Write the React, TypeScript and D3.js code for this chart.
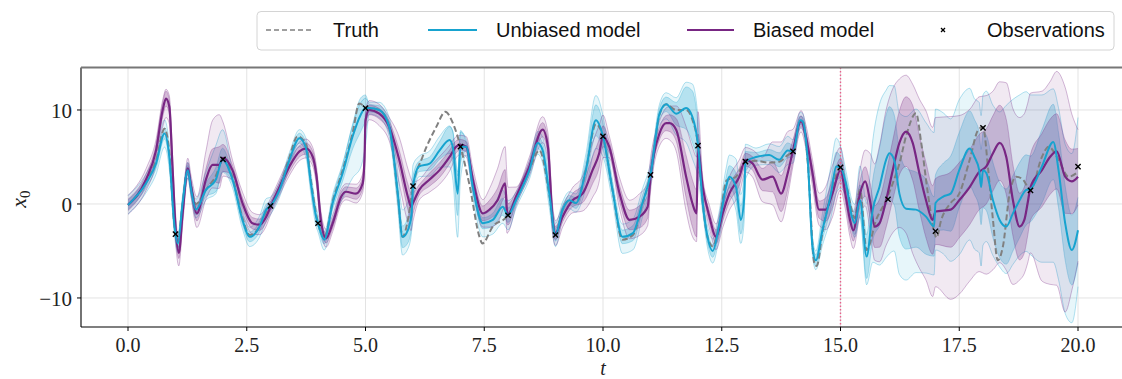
import React from 'react';
import * as d3 from 'd3';

const W = 1122;
const H = 379;

// Observations (t = 1..20)
const obsT = [1, 2, 3, 4, 5, 6, 7, 8, 9, 10, 11, 12, 13, 14, 15, 16, 17, 18, 19, 20];
const obsV = [-3.2, 4.75, -0.2, -2.05, 10.2, 1.9, 6.1, -1.2, -3.3, 7.2, 3.1, 6.2, 4.5, 5.6, 3.9, 0.5, -2.9, 8.1, 1.45, 3.97];

// Truth
const truthT = [0, 0.38, 0.59, 0.77, 0.87, 0.98, 1.05, 1.15, 1.26, 1.33, 1.43, 1.64, 1.85, 2.0, 2.2, 2.41, 2.56, 2.77, 2.91, 3.0, 3.19, 3.4, 3.57, 3.75, 3.85, 4.0, 4.13, 4.31, 4.52, 4.73, 4.87, 5.0, 5.29, 5.5, 5.68, 5.78, 5.9, 6.0, 6.2, 6.49, 6.68, 6.84, 7.0, 7.19, 7.4, 7.46, 7.68, 8.0, 8.17, 8.45, 8.66, 8.87, 9.0, 9.15, 9.29, 9.43, 9.64, 9.85, 10.0, 10.2, 10.41, 10.63, 10.83, 11.0, 11.19, 11.33, 11.54, 11.75, 11.88, 12.0, 12.1, 12.2, 12.31, 12.44, 12.6, 12.8, 13.0, 13.22, 13.5, 13.71, 13.89, 14.0, 14.15, 14.2, 14.31, 14.45, 14.5, 14.62, 14.8, 15.0, 15.13, 15.3, 15.41, 15.55, 15.75, 15.96, 16.1, 16.24, 16.38, 16.59, 16.7, 16.84, 16.98, 17.02, 17.12, 17.32, 17.5, 17.72, 17.9, 18.0, 18.11, 18.21, 18.31, 18.42, 18.56, 18.7, 18.84, 19.0, 19.24, 19.38, 19.59, 19.8, 20.0];
const truthV = [-0.1, 2.3, 4.6, 8.0, 5.5, -2.5, -4.0, 0.1, 3.6, 1.8, 0.0, 1.5, 3.0, 4.8, 2.8, -1.5, -3.3, -2.4, -0.8, -0.2, 1.7, 5.0, 7.2, 6.3, 2.5, -2.0, -3.6, 0.3, 3.6, 7.6, 10.7, 10.3, 10.0, 8.2, 1.0, -3.5, -1.5, 1.9, 5.0, 8.2, 9.8, 8.6, 6.1, 2.0, -3.5, -4.2, -2.4, -1.2, 0.5, 3.6, 5.7, 1.0, -3.3, -0.6, 0.4, 0.1, 3.6, 8.5, 7.2, 1.5, -3.8, -3.3, 0.0, 3.1, 9.5, 10.6, 10.0, 10.0, 9.0, 6.2, 0.2, -3.5, -4.5, -2.4, 2.5, 2.9, 4.5, 4.6, 4.4, 4.5, 5.2, 5.6, 8.8, 8.9, 4.5, -6.3, -6.6, -3.0, 1.0, 3.9, 1.8, -1.5, 1.5, -4.9, -1.7, 0.4, 2.2, 4.3, 7.2, 9.65, 6.5, 1.1, -3.1, -3.6, -1.7, 0.1, 1.1, 4.7, 7.9, 8.2, 3.6, -1.7, -6.0, -4.5, 1.1, 2.9, 2.6, 1.5, 5.0, 6.1, 4.7, 2.9, 3.4];

// Unbiased model ensemble mean
const unbT = [0, 0.38, 0.59, 0.77, 0.87, 0.98, 1.05, 1.15, 1.26, 1.33, 1.43, 1.64, 1.85, 1.99, 2.2, 2.41, 2.56, 2.77, 2.91, 3.0, 3.19, 3.4, 3.61, 3.75, 3.85, 3.96, 4.0, 4.13, 4.31, 4.52, 4.73, 4.9, 5.0, 5.08, 5.29, 5.5, 5.68, 5.78, 5.89, 5.97, 6.0, 6.13, 6.35, 6.56, 6.77, 6.84, 6.94, 7.0, 7.12, 7.26, 7.47, 7.68, 7.89, 8.0, 8.17, 8.45, 8.63, 8.73, 8.87, 9.0, 9.15, 9.29, 9.43, 9.64, 9.85, 10.0, 10.2, 10.41, 10.63, 10.83, 11.0, 11.19, 11.33, 11.54, 11.75, 11.88, 12.0, 12.1, 12.2, 12.31, 12.44, 12.59, 12.66, 12.8, 12.9, 12.97, 13.0, 13.22, 13.5, 13.71, 13.89, 14.0, 14.15, 14.2, 14.31, 14.41, 14.48, 14.62, 14.8, 14.91, 15.0, 15.13, 15.24, 15.3, 15.41, 15.55, 15.68, 15.82, 15.96, 16.03, 16.13, 16.24, 16.38, 16.59, 16.8, 16.97, 17.0, 17.17, 17.32, 17.5, 17.72, 17.82, 17.92, 17.96, 18.0, 18.07, 18.21, 18.35, 18.49, 18.63, 18.77, 18.91, 19.0, 19.24, 19.48, 19.59, 19.73, 19.87, 20.0];
const unbV = [-0.1, 2.2, 4.3, 7.5, 5.0, -2.4, -4.2, 0.1, 3.6, 1.5, -0.6, 1.5, 2.6, 4.7, 2.6, -1.7, -3.5, -2.4, -0.6, -0.2, 1.5, 4.7, 7.0, 5.9, 2.2, -1.35, -2.05, -3.8, 0.1, 3.3, 7.2, 9.5, 10.2, 10.2, 10.0, 8.2, 1.1, -3.5, -2.8, -1.0, 1.9, 4.0, 4.3, 5.7, 6.8, 6.0, 1.1, 6.1, 6.1, 1.8, -2.05, -1.7, -0.3, -1.2, 0.4, 3.6, 6.5, 5.7, 1.1, -3.3, -0.6, 0.4, 0.1, 3.6, 8.9, 7.2, 1.5, -3.5, -3.1, 0.1, 3.1, 9.6, 10.6, 9.6, 10.2, 9.3, 6.3, 0.1, -3.5, -5.0, -2.4, 1.8, 2.9, 1.8, -1.7, 0.5, 4.5, 5.0, 5.2, 4.7, 5.7, 5.6, 8.9, 8.8, 4.7, -4.5, -6.0, -2.8, 1.1, 4.0, 3.9, 1.8, -1.35, -2.05, 0.4, -5.6, -0.6, 1.8, 4.7, 5.4, 4.7, 1.1, -0.5, -0.6, -1.35, -2.4, 0.1, 0.8, 1.1, 3.6, 5.9, 5.0, 3.6, 1.8, 3.6, 3.3, 0.4, -1.7, -2.4, -1.0, 0.4, 1.5, 1.6, 4.0, 6.6, 3.6, -2.05, -4.9, -2.8];

// Biased model ensemble mean
const biaT = [0, 0.38, 0.59, 0.73, 0.8, 0.87, 0.94, 1.0, 1.07, 1.15, 1.26, 1.33, 1.45, 1.64, 1.78, 1.92, 2.0, 2.2, 2.41, 2.62, 2.77, 2.91, 3.0, 3.19, 3.4, 3.61, 3.75, 3.89, 3.97, 4.06, 4.17, 4.31, 4.49, 4.59, 4.8, 4.94, 4.98, 5.0, 5.08, 5.29, 5.5, 5.71, 5.89, 5.96, 6.0, 6.13, 6.35, 6.56, 6.77, 6.91, 7.0, 7.12, 7.26, 7.47, 7.61, 7.78, 7.94, 7.98, 8.0, 8.17, 8.45, 8.73, 8.84, 8.94, 9.0, 9.15, 9.36, 9.57, 9.78, 9.92, 10.0, 10.13, 10.35, 10.56, 10.77, 10.94, 11.0, 11.19, 11.33, 11.4, 11.54, 11.75, 11.88, 11.97, 12.0, 12.1, 12.24, 12.38, 12.52, 12.66, 12.87, 13.0, 13.15, 13.36, 13.57, 13.75, 13.89, 14.0, 14.17, 14.27, 14.41, 14.55, 14.69, 14.83, 15.0, 15.1, 15.2, 15.27, 15.41, 15.52, 15.62, 15.72, 15.82, 15.96, 16.1, 16.24, 16.38, 16.52, 16.66, 16.8, 16.94, 17.0, 17.32, 17.5, 17.72, 17.92, 18.07, 18.21, 18.35, 18.49, 18.63, 18.77, 18.87, 18.94, 19.0, 19.24, 19.41, 19.55, 19.73, 19.87, 20.0];
const biaV = [-0.1, 2.6, 5.7, 10.0, 11.2, 10.35, 3.6, -2.4, -5.2, -1.0, 3.8, 1.8, -1.0, 2.6, 4.15, 4.15, 4.9, 3.6, 0.1, -2.05, -2.2, -1.35, -0.3, 1.8, 4.0, 5.6, 5.9, 5.0, 2.9, -1.7, -3.65, -2.05, 0.8, 1.3, 1.1, 2.2, 5.0, 8.9, 10.0, 9.6, 8.2, 4.7, 0.8, -0.3, 0.1, 1.5, 2.6, 3.6, 5.0, 6.1, 6.3, 6.1, 2.6, -1.0, -0.6, 0.4, 2.2, -0.8, -1.1, 0.8, 4.0, 7.9, 6.1, -1.7, -3.1, -1.35, 0.4, 1.1, 3.6, 5.4, 7.2, 6.1, 1.1, -1.7, -1.35, -0.3, 2.9, 7.5, 8.6, 8.6, 7.9, 2.9, 0.1, -1.0, 5.7, 1.8, -1.35, -3.5, -1.0, 1.1, 2.9, 4.7, 4.3, 2.6, 2.9, 1.1, 3.3, 5.7, 8.8, 7.2, 3.3, -0.6, -0.6, 1.1, 3.6, 1.1, -1.7, -2.8, 1.1, 2.4, 0.4, -2.4, -2.05, 0.4, 3.6, 6.5, 7.7, 6.5, 3.3, 0.4, -1.7, -0.8, -0.6, 0.4, 1.8, 3.4, 4.0, 5.4, 6.5, 5.0, 0.4, -2.4, -1.7, 0.1, 1.8, 3.6, 5.0, 5.6, 2.9, 2.4, 2.9];

// Ensemble spread (distance of ensemble extremes / shaded band from the mean)
const spreadT = [0, 0.5, 0.8, 1.0, 1.3, 1.6, 1.8, 1.97, 2.05, 2.5, 2.9, 3.05, 3.5, 3.9, 4.05, 4.5, 4.8, 4.97, 5.05, 5.5, 5.8, 5.97, 6.05, 6.5, 6.8, 6.97, 7.05, 7.5, 7.8, 7.97, 8.05, 8.5, 8.8, 8.97, 9.05, 9.5, 9.8, 9.97, 10.05, 10.5, 10.8, 10.97, 11.05, 11.5, 11.8, 11.97, 12.05, 12.5, 12.8, 12.97, 13.05, 13.5, 13.8, 13.97, 14.05, 14.5, 14.8, 14.97, 15.05, 15.3, 15.5, 15.8, 16.0, 16.3, 16.5, 16.8, 17.0, 17.3, 17.5, 17.8, 18.0, 18.3, 18.5, 18.8, 19.0, 19.3, 19.5, 19.7, 20.0];
const unbEnvHi = [1.0, 1.0, 1.5, 1.0, 0.8, 1.5, 3.5, 4.0, 0.8, 1.0, 1.2, 0.8, 0.8, 1.2, 0.8, 1.0, 1.2, 1.3, 0.6, 1.0, 3.0, 3.0, 1.0, 1.5, 1.5, 2.0, 0.8, 1.0, 1.5, 2.0, 0.8, 1.0, 1.5, 1.5, 0.8, 1.0, 2.5, 3.0, 0.8, 1.5, 1.5, 1.5, 0.8, 1.5, 3.0, 4.0, 1.0, 1.5, 3.0, 2.5, 0.8, 1.2, 1.5, 1.5, 0.8, 1.0, 3.0, 3.0, 1.0, 2.0, 5.0, 9.0, 7.0, 9.0, 11.0, 10.0, 10.0, 8.0, 7.5, 6.0, 8.0, 11.0, 13.0, 11.0, 10.0, 7.0, 5.5, 8.0, 12.0];
const unbEnvLo = [1.0, 1.0, 1.5, 1.0, 0.8, 1.0, 1.5, 1.5, 0.8, 1.0, 1.2, 0.8, 0.8, 1.2, 0.8, 2.5, 5.0, 6.0, 0.6, 1.0, 2.0, 2.0, 1.0, 1.5, 3.0, 5.0, 0.8, 1.5, 1.5, 2.0, 0.8, 1.0, 1.5, 1.5, 0.8, 1.0, 3.0, 3.0, 0.8, 2.0, 1.5, 1.5, 0.8, 2.0, 4.0, 5.0, 1.0, 1.5, 2.5, 2.5, 0.8, 1.0, 1.5, 1.5, 0.8, 1.0, 2.5, 3.0, 1.0, 1.5, 2.0, 8.0, 11.0, 8.0, 7.0, 6.0, 5.0, 7.0, 9.0, 10.0, 8.0, 5.0, 5.0, 6.0, 7.0, 11.0, 13.0, 10.0, 6.0];
const unbCore = [0.5, 0.5, 0.6, 0.5, 0.5, 0.6, 1.2, 1.5, 0.4, 0.5, 0.6, 0.4, 0.5, 0.6, 0.4, 0.8, 1.5, 2.0, 0.4, 0.5, 1.2, 1.5, 0.5, 0.8, 1.5, 2.5, 0.4, 0.6, 0.8, 1.0, 0.4, 0.5, 0.8, 0.8, 0.4, 0.6, 1.5, 2.0, 0.4, 0.8, 0.8, 0.8, 0.4, 1.0, 2.5, 3.0, 0.5, 0.8, 1.5, 1.5, 0.4, 0.6, 0.8, 0.8, 0.4, 0.6, 1.5, 1.5, 0.5, 1.2, 2.0, 4.0, 5.0, 4.5, 4.0, 4.0, 3.0, 4.0, 4.0, 4.0, 4.0, 4.0, 4.0, 4.0, 3.5, 4.0, 4.0, 4.0, 3.5];
const biaEnvHi = [1.0, 1.2, 1.0, 1.5, 1.0, 2.5, 5.0, 5.5, 1.0, 1.2, 1.0, 0.8, 1.0, 1.0, 1.0, 0.8, 1.0, 1.0, 1.0, 1.0, 3.0, 3.0, 1.0, 1.5, 1.2, 1.0, 1.0, 1.5, 3.5, 4.0, 1.0, 1.0, 1.5, 1.5, 1.0, 1.5, 3.0, 3.0, 1.0, 2.0, 2.5, 2.5, 1.0, 2.0, 6.0, 6.0, 1.0, 1.5, 2.0, 1.5, 1.0, 3.0, 6.0, 3.0, 1.0, 1.5, 3.0, 3.0, 1.5, 2.0, 3.0, 8.0, 10.0, 6.0, 6.0, 9.5, 10.0, 10.0, 9.0, 8.0, 8.0, 6.0, 8.0, 12.0, 10.0, 8.0, 8.0, 10.0, 5.0];
const biaEnvLo = [1.0, 1.2, 2.0, 1.5, 1.0, 2.0, 2.5, 2.5, 1.0, 1.2, 1.0, 0.8, 1.0, 1.0, 1.0, 0.8, 1.0, 1.0, 1.0, 1.5, 3.0, 2.5, 1.0, 1.5, 1.5, 1.0, 1.0, 1.5, 2.5, 2.5, 1.0, 1.0, 1.5, 1.5, 1.0, 1.5, 3.0, 3.0, 1.0, 2.0, 2.0, 2.0, 1.0, 2.0, 4.0, 3.0, 1.0, 1.5, 2.0, 1.5, 1.0, 3.0, 3.0, 2.0, 1.0, 1.5, 2.5, 2.5, 1.5, 2.0, 2.5, 4.0, 5.0, 10.0, 12.0, 8.5, 8.0, 9.5, 10.0, 10.0, 11.0, 13.0, 12.0, 5.0, 7.0, 13.0, 14.0, 15.0, 9.0];
const biaCore = [0.6, 0.6, 0.8, 0.6, 0.6, 1.0, 1.8, 2.0, 0.5, 0.6, 0.6, 0.5, 0.6, 0.6, 0.5, 0.5, 0.6, 0.6, 0.5, 0.6, 1.2, 1.5, 0.5, 0.8, 0.7, 0.6, 0.5, 0.8, 1.3, 1.5, 0.5, 0.6, 0.8, 0.8, 0.5, 0.8, 1.5, 1.5, 0.5, 1.0, 1.2, 1.2, 0.5, 1.0, 2.5, 2.5, 0.5, 0.8, 1.0, 0.8, 0.5, 1.5, 2.0, 1.5, 0.5, 0.8, 1.5, 1.5, 0.8, 1.2, 1.5, 2.5, 3.0, 3.5, 4.0, 4.0, 3.5, 4.0, 4.0, 4.0, 4.0, 4.0, 4.0, 3.5, 3.5, 4.0, 4.0, 4.0, 3.0];

const xTicks = [0, 2.5, 5, 7.5, 10, 12.5, 15, 17.5, 20];
const yTicks = [-10, 0, 10];

const CYAN = '#17a3cf';
const PURPLE = '#782683';
const TRUTH = '#808080';

const SERIF = '"Liberation Serif", "DejaVu Serif", serif';
const SANS = '"Liberation Sans", "DejaVu Sans", sans-serif';

type Pt = { t: number; v: number; hi: number; lo: number; ch: number; cl: number };

export default function App() {
  const x = d3.scaleLinear().domain([-1, 21]).range([80.5, 1125.5]);
  const y = d3.scaleLinear().domain([-13.09, 14.52]).range([327, 67.5]);

  const build = (ts: number[], vs: number[], hi: number[], lo: number[], core: number[]): Pt[] => {
    const fHi = d3.scaleLinear().domain(spreadT).range(hi).clamp(true);
    const fLo = d3.scaleLinear().domain(spreadT).range(lo).clamp(true);
    const fC = d3.scaleLinear().domain(spreadT).range(core).clamp(true);
    return ts.map((t, i) => ({
      t,
      v: vs[i],
      hi: vs[i] + fHi(t),
      lo: vs[i] - fLo(t),
      ch: vs[i] + fC(t),
      cl: vs[i] - fC(t),
    }));
  };

  const unb = build(unbT, unbV, unbEnvHi, unbEnvLo, unbCore);
  const bia = build(biaT, biaV, biaEnvHi, biaEnvLo, biaCore);

  const curve = d3.curveMonotoneX;
  const envArea = d3.area<Pt>().x(d => x(d.t)).y0(d => y(d.lo)).y1(d => y(d.hi)).curve(curve);
  const coreArea = d3.area<Pt>().x(d => x(d.t)).y0(d => y(d.cl)).y1(d => y(d.ch)).curve(curve);
  const hiLine = d3.line<Pt>().x(d => x(d.t)).y(d => y(d.hi)).curve(curve);
  const loLine = d3.line<Pt>().x(d => x(d.t)).y(d => y(d.lo)).curve(curve);
  const chLine = d3.line<Pt>().x(d => x(d.t)).y(d => y(d.ch)).curve(curve);
  const clLine = d3.line<Pt>().x(d => x(d.t)).y(d => y(d.cl)).curve(curve);
  const meanLine = d3.line<Pt>().x(d => x(d.t)).y(d => y(d.v)).curve(curve);
  const truthLine = d3
    .line<number>()
    .x((_, i) => x(truthT[i]))
    .y(d => y(d))
    .curve(curve);

  const left = 81;
  const top = 67.5;
  const bottom = 327;
  const right = 1125.5;

  const ensemble = (pts: Pt[], color: string) => (
    <g>
      <path d={envArea(pts) || ''} fill={color} fillOpacity={0.1} />
      <path d={coreArea(pts) || ''} fill={color} fillOpacity={0.24} />
      <path d={hiLine(pts) || ''} fill="none" stroke={color} strokeOpacity={0.4} strokeWidth={0.8} />
      <path d={loLine(pts) || ''} fill="none" stroke={color} strokeOpacity={0.4} strokeWidth={0.8} />
      <path d={chLine(pts) || ''} fill="none" stroke={color} strokeOpacity={0.35} strokeWidth={0.8} />
      <path d={clLine(pts) || ''} fill="none" stroke={color} strokeOpacity={0.35} strokeWidth={0.8} />
    </g>
  );

  return (
    <svg
      width={W}
      height={H}
      viewBox={`0 0 ${W} ${H}`}
      style={{ position: 'absolute', left: 0, top: 0, background: '#fff' }}
    >
      <defs>
        <clipPath id="plot">
          <rect x={left} y={top} width={right - left} height={bottom - top} />
        </clipPath>
      </defs>

      {/* grid */}
      <g stroke="#e3e3e3" strokeWidth={1}>
        {xTicks.map(t => (
          <line key={'gx' + t} x1={x(t)} x2={x(t)} y1={top} y2={bottom} />
        ))}
        {yTicks.map(v => (
          <line key={'gy' + v} x1={left} x2={right} y1={y(v)} y2={y(v)} />
        ))}
      </g>

      <g clipPath="url(#plot)">
        {ensemble(unb, CYAN)}
        {ensemble(bia, PURPLE)}
        <path d={truthLine(truthV) || ''} fill="none" stroke={TRUTH} strokeWidth={2} strokeDasharray="6,3" />
        <path d={meanLine(bia) || ''} fill="none" stroke={PURPLE} strokeWidth={2.2} />
        <path d={meanLine(unb) || ''} fill="none" stroke={CYAN} strokeWidth={2} />
        <line
          x1={x(15)}
          x2={x(15)}
          y1={top}
          y2={bottom}
          stroke="#e8608c"
          strokeWidth={1.4}
          strokeDasharray="1.5,2"
        />
        {obsT.map((t, i) => {
          const cx = x(t);
          const cy = y(obsV[i]);
          const s = 2.6;
          return (
            <g key={'o' + t} stroke="#000" strokeWidth={1.4}>
              <line x1={cx - s} y1={cy - s} x2={cx + s} y2={cy + s} />
              <line x1={cx - s} y1={cy + s} x2={cx + s} y2={cy - s} />
            </g>
          );
        })}
      </g>

      {/* spines */}
      <line x1={left} x2={left} y1={top} y2={bottom} stroke="#000" strokeWidth={1.1} />
      <line x1={left} x2={right} y1={bottom} y2={bottom} stroke="#000" strokeWidth={1.1} />
      <line x1={left} x2={right} y1={top} y2={top} stroke="#777" strokeWidth={2} />

      {/* x ticks */}
      <g fontFamily={SERIF} fontSize={20} fill="#222" textAnchor="middle">
        {xTicks.map(t => (
          <g key={'xt' + t}>
            <line x1={x(t)} x2={x(t)} y1={bottom} y2={bottom + 4} stroke="#000" strokeWidth={1} />
            <text x={x(t)} y={352}>
              {t.toFixed(1)}
            </text>
          </g>
        ))}
      </g>
      {/* y ticks */}
      <g fontFamily={SERIF} fontSize={21} fill="#222" textAnchor="end">
        {yTicks.map(v => (
          <g key={'yt' + v}>
            <line x1={left - 4} x2={left} y1={y(v)} y2={y(v)} stroke="#000" strokeWidth={1} />
            <text x={72} y={y(v) + 8.5}>
              {v < 0 ? '\u2212' + Math.abs(v) : String(v)}
            </text>
          </g>
        ))}
      </g>

      {/* axis labels */}
      <text x={x(10)} y={375} fontFamily={SERIF} fontSize={20} fontStyle="italic" textAnchor="middle" fill="#222">
        t
      </text>
      <text
        transform="translate(26,199) rotate(-90)"
        fontFamily={SERIF}
        fontSize={22}
        textAnchor="middle"
        fill="#222"
      >
        <tspan fontStyle="italic">x</tspan>
        <tspan fontSize={15} dy={4}>
          0
        </tspan>
      </text>

      {/* legend */}
      <g>
        <rect x={257} y={11.5} width={857} height={38.5} rx={4} fill="#fff" fillOpacity={0.85} stroke="#d4d4d4" strokeWidth={1} />
        <line x1={266} x2={312} y1={30} y2={30} stroke={TRUTH} strokeWidth={1.6} strokeDasharray="5,3" />
        <line x1={428} x2={477} y1={30} y2={30} stroke={CYAN} strokeWidth={2} />
        <line x1={687} x2={734} y1={30} y2={30} stroke={PURPLE} strokeWidth={2} />
        <g stroke="#000" strokeWidth={1.2}>
          <line x1={941} y1={28} x2={945} y2={32} />
          <line x1={941} y1={32} x2={945} y2={28} />
        </g>
        <g fontFamily={SANS} fontSize={20} fill="#111">
          <text x={333} y={37}>Truth</text>
          <text x={496} y={37}>Unbiased model</text>
          <text x={753} y={37}>Biased model</text>
          <text x={987} y={37}>Observations</text>
        </g>
      </g>
    </svg>
  );
}
